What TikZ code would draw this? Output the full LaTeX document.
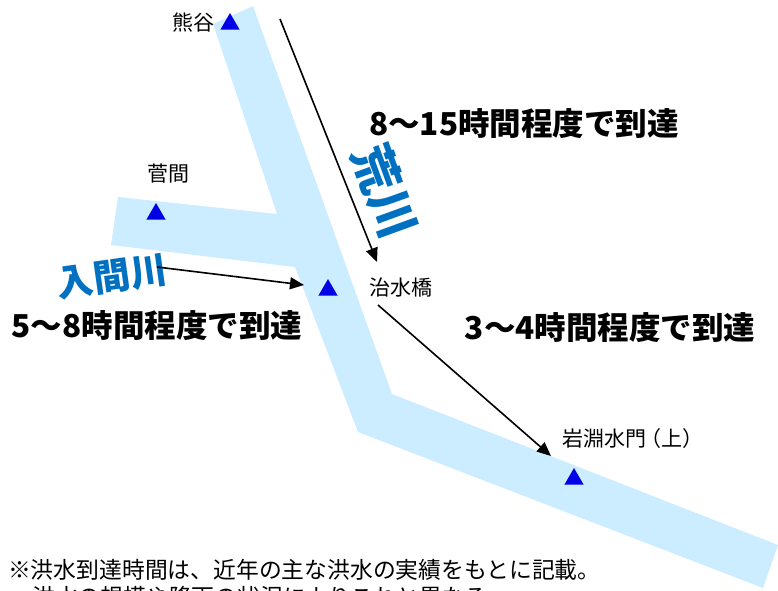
\documentclass[tikz,border=0pt]{standalone}
\usepackage{fontspec}
\setmainfont{Noto Sans CJK JP}
\definecolor{riverblue}{HTML}{CCECFF}
\definecolor{gaugeblue}{HTML}{0000E6}
\definecolor{rivertext}{HTML}{0070C0}
\usetikzlibrary{shapes.geometric,arrows.meta}
\tikzset{
  x=1pt,y=-1pt,
  river/.style={fill=riverblue,draw=none},
  gauge/.style={fill=gaugeblue,draw=none,regular polygon,regular polygon sides=3,minimum size=22pt,inner sep=0pt},
  place/.style={font=\fontsize{21}{22}\selectfont,inner sep=0pt,text=black},
  timelabel/.style={font=\bfseries\fontsize{31.5}{34}\selectfont,inner sep=0pt,text=black},
  rivername/.style={font=\bfseries\fontsize{48}{50}\selectfont,inner sep=0pt,text=rivertext},
  note/.style={font=\fontsize{22.8}{24}\selectfont,inner sep=0pt,anchor=west,text=black},
  flow/.style={draw=black,line width=1.6pt,-{Triangle[length=14pt,width=12pt]}}
}
\begin{document}
\begin{tikzpicture}
\useasboundingbox (0,0) rectangle (778,590);
\clip (0,0) rectangle (778,590);
\fill[river] (253,6) -- (392,394) -- (778,545) -- (763,588) -- (358,432) -- (295,267) -- (111,245) -- (118,197) -- (277,214) -- (213,24) -- cycle;
\node[gauge] (g1) at (230,24) {};
\node[gauge] (g2) at (156,214) {};
\node[gauge] (g3) at (328,290) {};
\node[gauge] (g4) at (574,479) {};
\node[place] (kumagaya) at (193,23) {熊谷};
\node[place] (sugema) at (168,174) {菅間};
\node[place] (chisui) at (401,288) {治水橋};
\node[place] (iwabuchi) at (630,439) {岩淵水門\kern-6pt（上）\kern-6pt};
\node[timelabel] (t1) at (524,124) {8～15時間程度で到達};
\node[timelabel] (t2) at (157,326) {5～8時間程度で到達};
\node[timelabel] (t3) at (610,328) {3～4時間程度で到達};
\node[rivername,rotate=-70] (arakawa) at (385,191) {荒川};
\node[rivername,font=\bfseries\fontsize{37}{40}\selectfont,rotate=8] (iruma) at (112,277) {入間川};
\coordinate (a1s) at (280,19);
\coordinate (a1e) at (377,262);
\coordinate (a2s) at (157,267);
\coordinate (a2e) at (304,285);
\coordinate (a3s) at (378,305);
\coordinate (a3e) at (551,456);
\draw[flow] (a1s) -- (a1e);
\draw[flow] (a2s) -- (a2e);
\draw[flow] (a3s) -- (a3e);
\node[note] (n1) at (8,570) {※洪水到達時間は、近年の主な洪水の実績をもとに記載。};
\node[note] (n2) at (32,597) {洪水の規模や降雨の状況によりこれと異なる。};
\end{tikzpicture}
\end{document}
